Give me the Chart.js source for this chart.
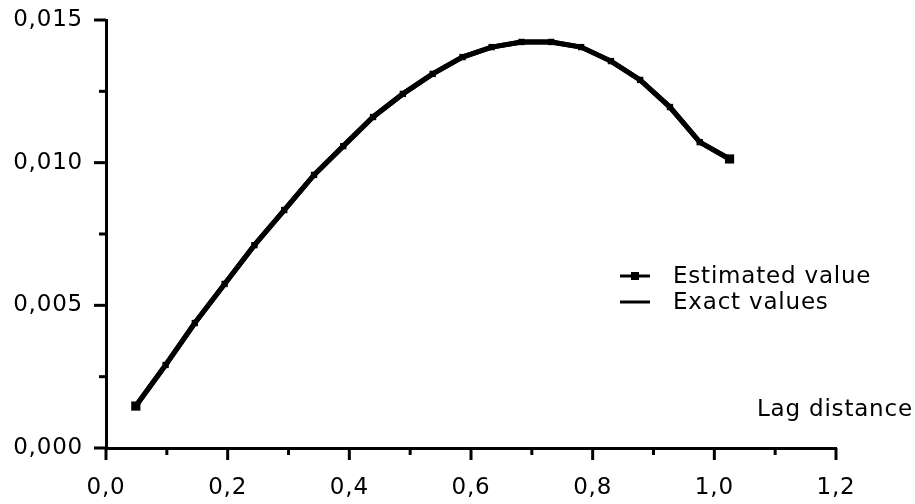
<!DOCTYPE html>
<html>
<head>
<meta charset="utf-8">
<script src="https://cdn.jsdelivr.net/npm/chart.js@4.4.1/dist/chart.umd.min.js"></script>
<style>
    html, body { margin: 0; padding: 0; background: #fff; }
    canvas { display: block; }
</style>
</head>
<body>
<canvas id="variogram" width="915" height="504"></canvas>
<script>
// Lag distances of the sample points
const lagDistance = [0.049, 0.098, 0.146, 0.195, 0.244, 0.293, 0.342, 0.390, 0.439, 0.488, 0.537,
    0.586, 0.634, 0.683, 0.732, 0.781, 0.830, 0.878, 0.927, 0.976, 1.025];

// Estimated variogram
const estimatedValue = [0.00147, 0.00291, 0.00438, 0.00575, 0.00711, 0.00834, 0.00957, 0.01058,
    0.01160, 0.01241, 0.01311, 0.01370, 0.01405, 0.01423, 0.01423, 0.01405, 0.01356, 0.01290,
    0.01195, 0.01072, 0.01013];

// Exact variogram (lies on top of the estimate)
const exactValues = [0.00147, 0.00291, 0.00438, 0.00575, 0.00711, 0.00834, 0.00957, 0.01058,
    0.01160, 0.01241, 0.01311, 0.01370, 0.01405, 0.01423, 0.01423, 0.01405, 0.01356, 0.01290,
    0.01195, 0.01072, 0.01013];

const xTicks = [0, 0.2, 0.4, 0.6, 0.8, 1.0, 1.2];
const yTicks = [0, 0.005, 0.010, 0.015];
const xTitle = 'Lag distance';

const FONT = 'DejaVu Sans';
const SIZE = 23;
const SPACING = '0.8px';

const toPoints = ys => ys.map((y, i) => ({ x: lagDistance[i], y }));
const comma = (v, d) => v.toFixed(d).replace('.', ',');

// Wide letter spacing for all canvas text
const spacingPlugin = {
    id: 'spacing',
    beforeLayout(chart) { chart.ctx.letterSpacing = SPACING; },
    beforeDraw(chart) { chart.ctx.letterSpacing = SPACING; }
};

// Outward tick marks (long at labels, short in between), axis title and legend
const decorPlugin = {
    id: 'decor',
    afterDraw(chart) {
        const ctx = chart.ctx;
        const xs = chart.scales.x;
        const ys = chart.scales.y;
        const x0 = xs.getPixelForValue(0);
        const y0 = ys.getPixelForValue(0);
        ctx.save();
        ctx.strokeStyle = '#000';
        ctx.lineWidth = 3;
        ctx.lineCap = 'butt';

        xTicks.forEach((v, i) => {
            const px = xs.getPixelForValue(v);
            ctx.beginPath();
            ctx.moveTo(px, y0);
            ctx.lineTo(px, y0 + 12);
            ctx.stroke();
            if (i < xTicks.length - 1) {
                const mx = xs.getPixelForValue((v + xTicks[i + 1]) / 2);
                ctx.beginPath();
                ctx.moveTo(mx, y0);
                ctx.lineTo(mx, y0 + 7);
                ctx.stroke();
            }
        });

        yTicks.forEach((v, i) => {
            const py = ys.getPixelForValue(v);
            ctx.beginPath();
            ctx.moveTo(x0, py);
            ctx.lineTo(x0 - 12, py);
            ctx.stroke();
            if (i < yTicks.length - 1) {
                const my = ys.getPixelForValue((v + yTicks[i + 1]) / 2);
                ctx.beginPath();
                ctx.moveTo(x0, my);
                ctx.lineTo(x0 - 7, my);
                ctx.stroke();
            }
        });

        ctx.fillStyle = '#000';
        ctx.font = SIZE + 'px "' + FONT + '"';
        ctx.letterSpacing = SPACING;
        ctx.textAlign = 'left';
        ctx.textBaseline = 'alphabetic';
        ctx.fillText(xTitle, 757, 416);

        // legend
        ctx.textBaseline = 'middle';
        const rows = [276, 302];
        chart.data.datasets.forEach((ds, i) => {
            const ly = rows[i];
            ctx.lineWidth = 3;
            ctx.beginPath();
            ctx.moveTo(620, ly);
            ctx.lineTo(650, ly);
            ctx.stroke();
            if (ds.label === 'Estimated value') {
                ctx.fillRect(631, ly - 4, 8, 8);
            }
            ctx.fillText(ds.label, 673, ly + 1);
        });
        ctx.restore();
    }
};

new Chart(document.getElementById('variogram'), {
    type: 'line',
    data: {
        datasets: [{
            label: 'Estimated value',
            data: toPoints(estimatedValue),
            borderColor: '#000',
            backgroundColor: '#000',
            borderWidth: 5,
            pointStyle: 'rect',
            // end points stand out more than the ones along the curve
            pointRadius: c => (c.dataIndex === 0 || c.dataIndex === estimatedValue.length - 1) ? 6.5 : 4.5,
            pointBorderWidth: 0,
            tension: 0
        }, {
            label: 'Exact values',
            data: toPoints(exactValues),
            borderColor: '#000',
            borderWidth: 5,
            pointRadius: 0,
            tension: 0
        }]
    },
    options: {
        responsive: false,
        animation: false,
        layout: { padding: { left: 0, top: 20, right: 79, bottom: 0 } },
        plugins: {
            legend: { display: false },
            tooltip: { enabled: false }
        },
        scales: {
            x: {
                type: 'linear',
                min: 0,
                max: 1.2,
                afterFit: s => { s.height = 56; s.paddingLeft = 0; s.paddingRight = 0; },
                afterBuildTicks: s => { s.ticks = xTicks.map(v => ({ value: v })); },
                grid: { display: false },
                border: { display: true, color: '#000', width: 3 },
                ticks: {
                    color: '#000',
                    padding: 18,
                    maxRotation: 0,
                    font: { family: FONT, size: SIZE },
                    callback: v => comma(v, 1)
                }
            },
            y: {
                type: 'linear',
                min: 0,
                max: 0.015,
                afterFit: s => { s.width = 106; s.paddingTop = 0; s.paddingBottom = 0; },
                afterBuildTicks: s => { s.ticks = yTicks.map(v => ({ value: v })); },
                grid: { display: false },
                border: { display: true, color: '#000', width: 3 },
                ticks: {
                    color: '#000',
                    padding: 15,
                    font: { family: FONT, size: SIZE },
                    callback: v => comma(v, 3)
                }
            }
        }
    },
    plugins: [spacingPlugin, decorPlugin]
});
</script>
</body>
</html>
